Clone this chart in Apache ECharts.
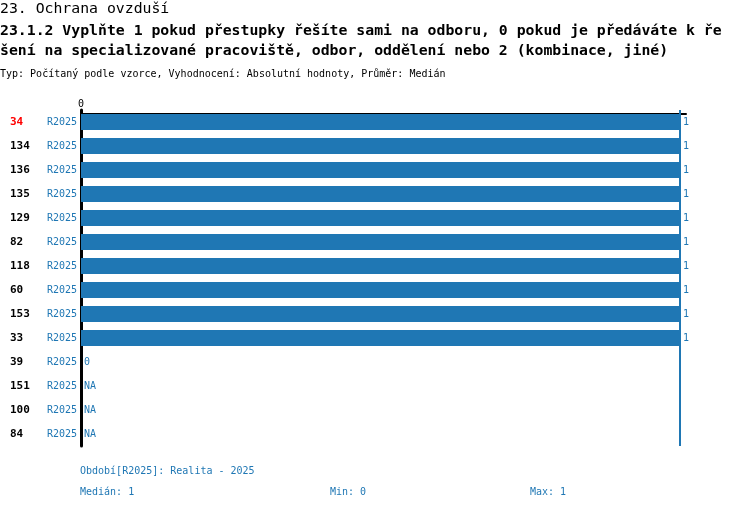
<!DOCTYPE html>
<html>
<head>
<meta charset="utf-8">
<script src="https://cdn.jsdelivr.net/npm/echarts@6/dist/echarts.min.js"></script>
<style>
  html, body { margin: 0; padding: 0; background: #fff; }
  #show { width: 750px; height: 510px; }
</style>
</head>
<body>
<div id="show"></div>
<script>
// respondenti (id) a období
var ids = ['34', '134', '136', '135', '129', '82', '118', '60', '153', '33', '39', '151', '100', '84'];
var periods = ['R2025', 'R2025', 'R2025', 'R2025', 'R2025', 'R2025', 'R2025', 'R2025', 'R2025', 'R2025', 'R2025', 'R2025', 'R2025', 'R2025'];
// hodnoty, null = NA
var values = [1, 1, 1, 1, 1, 1, 1, 1, 1, 1, 0, null, null, null];
var highlightId = '34';
var xTicks = [0];

var blue = '#1f77b4';
var mono = '"DejaVu Sans Mono", "Liberation Mono", monospace';

// statistiky pro patičku
var known = values.filter(function (v) { return v !== null; }).sort(function (a, b) { return a - b; });
var mid = Math.floor(known.length / 2);
var median = known.length % 2 ? known[mid] : (known[mid - 1] + known[mid]) / 2;
var minVal = known[0];
var maxVal = known[known.length - 1];

var cats = [];
for (var i = 0; i < ids.length; i++) {
    cats.push(ids[i] + '|' + periods[i]);
}

var barData = [];
for (var j = 0; j < values.length; j++) {
    if (values[j] === null) {
        barData.push({ value: 0, label: { formatter: 'NA' } });
    } else {
        barData.push(values[j]);
    }
}

function txt(text, left, top, size, weight, color, lh) {
    return {
        text: text, left: left, top: top, padding: 0,
        textStyle: { fontFamily: mono, fontSize: size, fontWeight: weight, color: color, lineHeight: lh }
    };
}

var myChart = echarts.init(document.getElementById('show'));
var option = {
    animation: false,
    textStyle: { fontFamily: mono },
    title: [
        txt('23. Ochrana ovzduší', 0, 1, 14.8, 'normal', '#000', 17),
        txt('23.1.2 Vyplňte 1 pokud přestupky řešíte sami na odboru, 0 pokud je předáváte k ře\nšení na specializované pracoviště, odbor, oddělení nebo 2 (kombinace, jiné)', 0, 21, 14.8, 'bold', '#000', 20),
        txt('Typ: Počítaný podle vzorce, Vyhodnocení: Absolutní hodnoty, Průměr: Medián', 0, 68, 10, 'normal', '#000', 12),
        txt('Období[R2025]: Realita - 2025', 80, 465, 10, 'normal', blue, 12),
        txt('Medián: ' + median, 80, 486, 10, 'normal', blue, 12),
        txt('Min: ' + minVal, 330, 486, 10, 'normal', blue, 12),
        txt('Max: ' + maxVal, 530, 486, 10, 'normal', blue, 12)
    ],
    grid: { left: 81, right: 64, top: 110, height: 336, containLabel: false },
    xAxis: {
        type: 'value',
        position: 'top',
        min: 0,
        max: 1.01,
        interval: 1,
        offset: -4,
        axisLine: { show: true, lineStyle: { color: '#000', width: 2 } },
        axisTick: { show: false },
        splitLine: { show: false },
        axisLabel: {
            margin: 5,
            fontFamily: mono,
            fontSize: 10,
            color: '#000',
            formatter: function (v) { return xTicks.indexOf(v) >= 0 ? String(v) : ''; }
        }
    },
    yAxis: {
        type: 'category',
        inverse: true,
        data: cats,
        axisLine: { show: true, lineStyle: { color: '#000', width: 3 } },
        axisTick: { show: false },
        axisLabel: {
            margin: 4,
            formatter: function (v) {
                var p = v.split('|');
                var key = p[0] === highlightId ? 'idRed' : 'id';
                return '{' + key + '|' + p[0] + '}{per|' + p[1] + '}';
            },
            rich: {
                id: { fontFamily: mono, fontSize: 11, fontWeight: 'bold', color: '#000', width: 37, align: 'left' },
                idRed: { fontFamily: mono, fontSize: 11, fontWeight: 'bold', color: '#ff0000', width: 37, align: 'left' },
                per: { fontFamily: mono, fontSize: 10, color: blue, width: 30, align: 'left' }
            }
        }
    },
    series: [
        {
            type: 'bar',
            data: barData,
            barWidth: 16,
            itemStyle: { color: blue },
            label: {
                show: true,
                position: 'right',
                distance: 3,
                fontFamily: mono,
                fontSize: 10,
                color: blue
            },
            markLine: {
                silent: true,
                symbol: 'none',
                label: { show: false },
                lineStyle: { color: blue, width: 2, type: 'solid' },
                data: [{ xAxis: median }]
            }
        }
    ]
};
myChart.setOption(option);
</script>
</body>
</html>
